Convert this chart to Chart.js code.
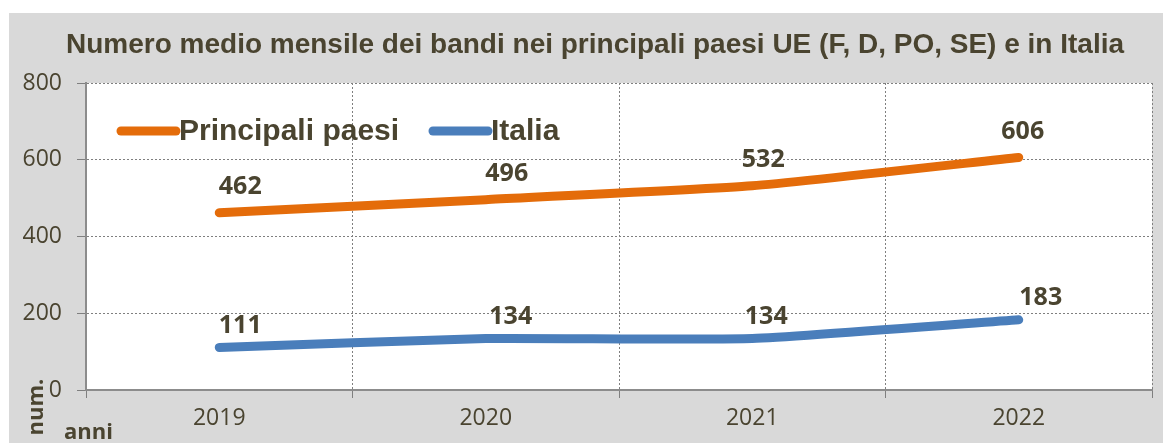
<!DOCTYPE html>
<html>
<head>
<meta charset="utf-8">
<script src="https://cdn.jsdelivr.net/npm/chart.js@4.4.1/dist/chart.umd.min.js"></script>
<style>
  html, body { margin: 0; padding: 0; background: #fff; }
  #wrap { position: relative; width: 1163px; height: 443px; }
</style>
</head>
<body>
<div id="wrap"><canvas id="chart" width="1163" height="443"></canvas></div>
<script>
// dati
const years = ["2019", "2020", "2021", "2022"];
const principaliPaesi = [462, 496, 532, 606];
const italia = [111, 134, 134, 183];
const yTicks = [0, 200, 400, 600, 800];
const titolo = "Numero medio mensile dei bandi nei principali paesi UE (F, D, PO, SE) e in Italia";

const TEXT = "#4a4430";
const ORANGE = "#e46c0a";
const BLUE = "#4a7ebb";
const GRID = "#7f7f7f";

// spostamento delle etichette valore (come nell'originale)
const labelShift = [
  [21, 21, 11, 4],
  [21, 25, 14, 22],
];
const labelLift = [26, 22];

const bgPlugin = {
  id: "bg",
  beforeDraw(chart) {
    const { ctx, chartArea: a } = chart;
    ctx.save();
    ctx.fillStyle = "#ffffff";
    ctx.fillRect(0, 0, chart.width, chart.height);
    ctx.fillStyle = "#d9d9d9";
    ctx.fillRect(9, 13, chart.width - 9, chart.height - 13);
    ctx.fillStyle = "#ffffff";
    ctx.fillRect(a.left, a.top, a.right - a.left, a.bottom - a.top);

    // titolo
    ctx.fillStyle = TEXT;
    ctx.font = "bold 28px 'Liberation Sans'";
    ctx.textAlign = "center";
    ctx.textBaseline = "middle";
    ctx.fillText(titolo, 595, 45);
    ctx.restore();
  },
};

const extrasPlugin = {
  id: "extras",
  afterDatasetsDraw(chart) {
    const { ctx } = chart;
    ctx.save();

    // etichette valori
    ctx.font = "bold 25px 'Open Sans'";
    ctx.fillStyle = TEXT;
    ctx.textAlign = "center";
    ctx.textBaseline = "middle";
    chart.data.datasets.forEach((ds, di) => {
      chart.getDatasetMeta(di).data.forEach((pt, i) => {
        ctx.fillText(String(ds.data[i]), pt.x + labelShift[di][i], pt.y - labelLift[di]);
      });
    });

    // legenda dentro l'area del grafico
    const legendX = [121, 433];
    ctx.font = "bold 30px 'Liberation Sans'";
    ctx.textAlign = "left";
    chart.data.datasets.forEach((ds, di) => {
      const x = legendX[di];
      ctx.strokeStyle = ds.borderColor;
      ctx.lineWidth = 9;
      ctx.lineCap = "round";
      ctx.beginPath();
      ctx.moveTo(x, 131);
      ctx.lineTo(x + 55, 131);
      ctx.stroke();
      ctx.fillStyle = TEXT;
      ctx.fillText(ds.label, x + 58, 132);
    });

    // titoli assi
    ctx.font = "bold 22px 'Open Sans'";
    ctx.fillText("anni", 64, 433);
    ctx.translate(37, 407);
    ctx.rotate(-Math.PI / 2);
    ctx.textAlign = "center";
    ctx.fillText("num.", 0, 0);
    ctx.restore();
  },
};

new Chart(document.getElementById("chart"), {
  type: "line",
  data: {
    labels: years,
    datasets: [
      {
        label: "Principali paesi",
        data: principaliPaesi,
        borderColor: ORANGE,
        backgroundColor: ORANGE,
        borderWidth: 9,
        borderCapStyle: "round",
        borderJoinStyle: "round",
        pointRadius: 0,
        tension: 0.15,
      },
      {
        label: "Italia",
        data: italia,
        borderColor: BLUE,
        backgroundColor: BLUE,
        borderWidth: 9,
        borderCapStyle: "round",
        borderJoinStyle: "round",
        pointRadius: 0,
        tension: 0.15,
      },
    ],
  },
  options: {
    responsive: false,
    animation: false,
    layout: { padding: { left: 0, right: 11, top: 83, bottom: 0 } },
    plugins: {
      legend: { display: false },
      tooltip: { enabled: false },
      title: { display: false },
    },
    scales: {
      x: {
        offset: true,
        afterFit(scale) { scale.height = 53; },
        grid: {
          offset: true,
          color: GRID,
          lineWidth: 1,
          tickLength: 8,
          tickColor: GRID,
        },
        border: { display: true, color: "#8c8c8c", width: 2, dash: [2, 2] },
        ticks: {
          color: TEXT,
          padding: 7,
          font: { family: "'Open Sans'", size: 23 },
        },
      },
      y: {
        min: 0,
        max: 800,
        afterFit(scale) { scale.width = 86; },
        afterBuildTicks(scale) { scale.ticks = yTicks.map((v) => ({ value: v })); },
        grid: {
          color: GRID,
          lineWidth: 1,
          tickLength: 9,
          tickColor: GRID,
        },
        border: { display: true, color: "#8c8c8c", width: 2, dash: [2, 2] },
        ticks: {
          color: TEXT,
          padding: 15,
          font: { family: "'Open Sans'", size: 23 },
        },
      },
    },
  },
  plugins: [bgPlugin, extrasPlugin],
});
</script>
</body>
</html>
